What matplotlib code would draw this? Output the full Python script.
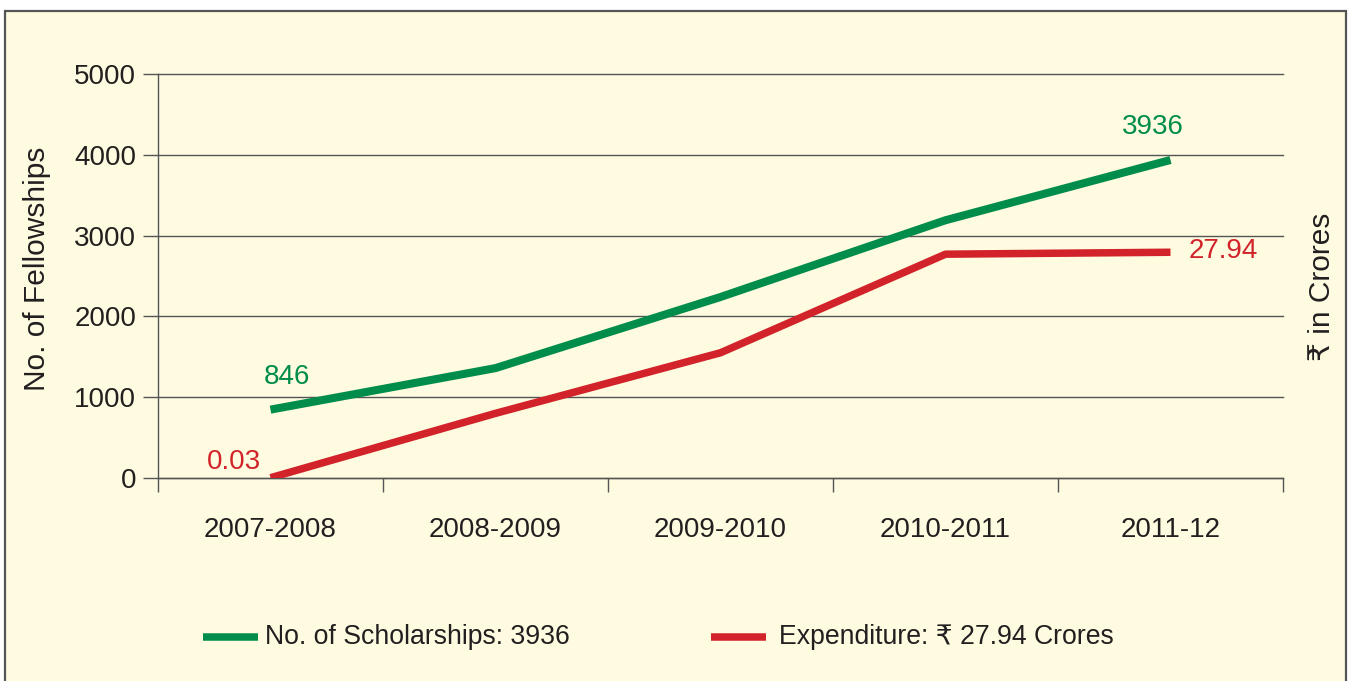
import matplotlib
matplotlib.use("Agg")
import matplotlib.pyplot as plt
from matplotlib.patches import Rectangle
from matplotlib.lines import Line2D

years = ["2007-2008", "2008-2009", "2009-2010", "2010-2011", "2011-12"]
scholarships = [846, 1360, 2240, 3190, 3936]
expenditure = [0.03, 8.0, 15.5, 27.7, 27.94]
yticks = [0, 1000, 2000, 3000, 4000, 5000]

GREEN = "#008C4A"
RED = "#D2232A"
BG = "#FEFBE0"
GRID = "#555555"
TXT = "#231F20"
FS = 20
FS_LAB = 21.5
FS_LEG = 19.2

plt.rcParams["font.family"] = ["Liberation Sans", "DejaVu Sans"]

fig = plt.figure(figsize=(13.5, 6.81), dpi=100)
fig.patch.set_facecolor("white")
bg = Rectangle((5 / 1350, -0.05), 1341 / 1350, 1.05 - 11 / 681,
               transform=fig.transFigure, facecolor=BG,
               edgecolor="#555555", linewidth=1.6, zorder=-10)
fig.add_artist(bg)

ax = fig.add_axes([158 / 1350, 1 - 478 / 681, 1125 / 1350, 404 / 681])
ax.set_facecolor("none")
x = list(range(len(years)))
ax.plot(x, scholarships, color=GREEN, lw=5.8, solid_capstyle="butt", zorder=3)
ax.set_xlim(-0.5, len(years) - 0.5)
ax.set_ylim(0, 5000)
ax.set_yticks(yticks)
ax.set_yticklabels([str(v) for v in yticks], fontsize=FS, color=TXT)
ax.tick_params(axis="y", length=10.8, width=1, color=GRID, pad=5)
ax.yaxis.grid(True, color=GRID, lw=1)
for gl in ax.get_ygridlines():
    gl.set_clip_on(False)
ax.set_xticks([i - 0.5 for i in range(len(years) + 1)])
ax.set_xticklabels([])
ax.set_xticks(x, minor=True)
ax.set_xticklabels(years, minor=True, fontsize=FS, color=TXT)
ax.tick_params(axis="x", which="major", length=10, width=1, color=GRID)
ax.tick_params(axis="x", which="minor", length=0, pad=28)
for s in ["top", "right"]:
    ax.spines[s].set_visible(False)
for s in ["left", "bottom"]:
    ax.spines[s].set_color(GRID)
    ax.spines[s].set_linewidth(1)

ax2 = ax.twinx()
ax2.set_ylim(0, 50)
ax2.plot(x, expenditure, color=RED, lw=5.4, solid_capstyle="butt", zorder=3)
ax2.set_yticks([])
for s in ax2.spines.values():
    s.set_visible(False)

ax.annotate(f"{scholarships[0]}", xy=(x[0], scholarships[0]), xytext=(16, 33),
            textcoords="offset pixels", ha="center", va="center", fontsize=FS, color=GREEN)
ax.annotate(f"{scholarships[-1]}", xy=(x[-1], scholarships[-1]), xytext=(-18, 33),
            textcoords="offset pixels", ha="center", va="center", fontsize=FS, color=GREEN)
ax2.annotate(f"{expenditure[0]:.2f}", xy=(x[0], expenditure[0]), xytext=(-9, 16),
             textcoords="offset pixels", ha="right", va="center", fontsize=FS, color=RED)
ax2.annotate(f"{expenditure[-1]:.2f}", xy=(x[-1], expenditure[-1]), xytext=(18, 1),
             textcoords="offset pixels", ha="left", va="center", fontsize=FS, color=RED)

fig.text(37 / 1350, 1 - 269 / 681, "No. of Fellowships", rotation=90, ha="center",
         va="center", fontsize=FS_LAB, color=TXT)
fig.text(1322 / 1350, 1 - 287 / 681, "₹ in Crores", rotation=90, ha="center",
         va="center", fontsize=FS_LAB, color=TXT)

ly = 1 - 637 / 681
fig.add_artist(Line2D([203 / 1350, 258 / 1350], [ly, ly], transform=fig.transFigure,
                      color=GREEN, lw=5.4, solid_capstyle="butt"))
fig.text(265 / 1350, ly, f"No. of Scholarships: {scholarships[-1]}", ha="left", va="center",
         fontsize=FS_LEG, color=TXT)
fig.add_artist(Line2D([711 / 1350, 766 / 1350], [ly, ly], transform=fig.transFigure,
                      color=RED, lw=5.4, solid_capstyle="butt"))
fig.text(779 / 1350, ly, f"Expenditure: ₹ {expenditure[-1]:.2f} Crores", ha="left",
         va="center", fontsize=FS_LEG, color=TXT)

fig.savefig("out.png", dpi=100, facecolor=fig.get_facecolor())
